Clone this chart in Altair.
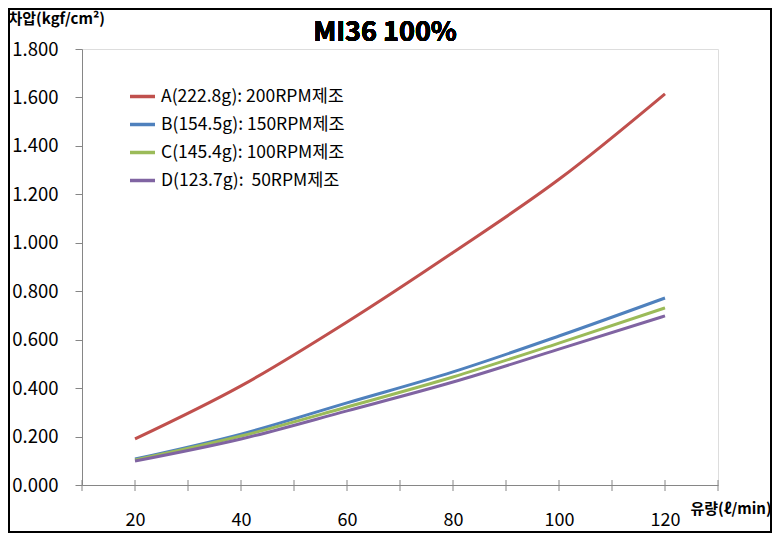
import altair as alt
import pandas as pd

flow = [20, 40, 60, 80, 100, 120]
series_names = ["A(222.8g): 200RPM제조", "B(154.5g): 150RPM제조",
                "C(145.4g): 100RPM제조", "D(123.7g):\u00a0 50RPM제조"]
a_vals = [0.19, 0.409, 0.673, 0.960, 1.262, 1.615]
b_vals = [0.107, 0.210, 0.339, 0.467, 0.615, 0.772]
c_vals = [0.103, 0.202, 0.322, 0.446, 0.586, 0.731]
d_vals = [0.099, 0.190, 0.306, 0.425, 0.561, 0.698]
colors = ["#C0504D", "#4F81BD", "#9BBB59", "#8064A2"]
x_tick_values = [10, 20, 30, 40, 50, 60, 70, 80, 90, 100, 110, 120, 130]
x_label_values = [20, 40, 60, 80, 100, 120]
y_tick_values = [0.0, 0.2, 0.4, 0.6, 0.8, 1.0, 1.2, 1.4, 1.6, 1.8]

rows = []
for name, vals in zip(series_names, [a_vals, b_vals, c_vals, d_vals]):
    for f, v in zip(flow, vals):
        rows.append({"flow": f, "dp": v, "series": name})
df = pd.DataFrame(rows)
ticks_df = pd.DataFrame({"t": x_tick_values})

FONT = "Noto Sans CJK KR"
W, H = 636, 436

xscale = alt.Scale(domain=[10, 130], nice=False, zero=False)

lines = alt.Chart(df).mark_line(strokeWidth=3, interpolate="monotone").encode(
    x=alt.X("flow:Q", scale=xscale,
            axis=alt.Axis(values=x_label_values, grid=False, ticks=False,
                          domainColor="#868686", labelFontSize=18, labelFont=FONT,
                          labelColor="#000000", labelPadding=26,
                          title="유량(ℓ/min)", titleFont=FONT, titleFontSize=15,
                          titleFontWeight="bold", titleX=608, titleY=23,
                          titleAlign="left", titleBaseline="middle")),
    y=alt.Y("dp:Q", scale=alt.Scale(domain=[0, 1.8], nice=False),
            axis=alt.Axis(values=y_tick_values, format=".3f", grid=False,
                          tickSize=7, tickColor="#868686", domainColor="#868686",
                          labelFontSize=18.5, labelFont=FONT, labelColor="#000000",
                          labelPadding=17,
                          title="차압(kgf/cm²)", titleFont=FONT, titleFontSize=15,
                          titleFontWeight="bold", titleAngle=0, titleX=-74,
                          titleY=-31, titleAlign="left", titleBaseline="middle")),
    color=alt.Color("series:N",
                    scale=alt.Scale(domain=series_names, range=colors),
                    sort=series_names,
                    legend=alt.Legend(title=None, orient="none", legendX=46,
                                      legendY=33, symbolType="stroke",
                                      symbolSize=625, symbolStrokeWidth=3.5,
                                      labelFontSize=17.5, labelFont=FONT,
                                      labelColor="#000000", rowPadding=5,
                                      labelOffset=4, labelLimit=0)),
)

xticks = alt.Chart(ticks_df).mark_rule(color="#868686", strokeWidth=1).encode(
    x=alt.X("t:Q", scale=xscale),
    y=alt.value(H - 5),
    y2=alt.value(H + 6),
)

border = alt.Chart(ticks_df).mark_rect(fill=None, stroke="#000000", strokeWidth=1.5).encode(
    x=alt.value(-73),
    x2=alt.value(689),
    y=alt.value(-40),
    y2=alt.value(483),
)

title_txt = alt.Chart(ticks_df).mark_text(
    text="MI36 100%", font=FONT, fontSize=27, fontWeight="bold",
    align="center", baseline="middle", color="#000000"
).encode(x=alt.value(303), y=alt.value(-16))

chart = alt.layer(border, xticks, lines, title_txt).properties(
    width=W, height=H,
    autosize=alt.AutoSizeParams(type="none"),
    padding={"left": 74, "top": 41, "right": 54, "bottom": 48},
).configure_view(stroke=None).configure(background="#ffffff")

chart.save("out.html", embed_options={"renderer": "svg", "actions": False})
